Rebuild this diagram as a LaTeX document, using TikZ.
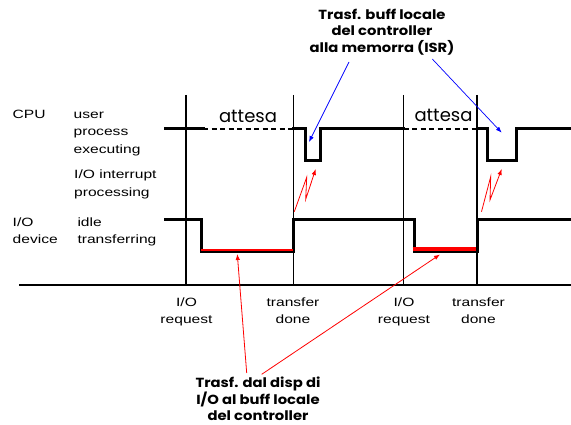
\documentclass[tikz,border=0pt]{standalone}
\usepackage{fontspec}
\setmainfont[FakeStretch=1.3]{Liberation Sans}
\newfontfamily\handfont{Poppins}
\newfontfamily\notefont[FakeStretch=1.12]{Poppins}
\usetikzlibrary{arrows.meta}

\begin{document}
\begin{tikzpicture}[x=1pt,y=-1pt,
  signal/.style={line width=3pt, line join=miter, line cap=rect},
  waiting/.style={line width=2.6pt, dash pattern=on 5pt off 3.5pt},
  marker/.style={line width=1.3pt},
  axisline/.style={line width=2pt},
  lbl/.style={font=\fontsize{12}{17.5}\selectfont, inner sep=0pt, anchor=base west},
  ctr/.style={font=\fontsize{12}{17.5}\selectfont, inner sep=0pt, anchor=base, align=center},
  waitlbl/.style={font=\handfont\fontsize{18}{20}\selectfont, inner sep=0pt},
  note/.style={font=\notefont\bfseries\fontsize{13.2}{16.5}\selectfont, inner sep=1pt, align=center},
  redarrow/.style={red, line width=0.8pt, -{Latex[length=6pt,width=4.5pt]}},
  bluearrow/.style={blue, line width=0.7pt, -{Latex[length=6pt,width=4.5pt]}}
]
\useasboundingbox (0,0) rectangle (571,425);

% event markers and time axis
\draw[marker] (186,95) -- (186,285);
\draw[marker] (293.5,95) -- (293.5,285);
\draw[marker] (403.5,95) -- (403.5,285);
\draw[marker] (477,95) -- (477,285);
\draw[axisline] (19,284.5) -- (571,284.5);

% CPU activity
\draw[signal] (165,129) -- (203,129);
\draw[waiting] (203,129) -- (293,129);
\draw[signal] (293,129) -- (305.7,129) -- (305.7,160.8) -- (320,160.8) -- (320,129) -- (403.5,129);
\draw[waiting] (403.5,129) -- (477,129);
\draw[signal] (477,129) -- (487.7,129) -- (487.7,160.8) -- (516,160.8) -- (516,129) -- (571,129);

% I/O device activity
\draw[signal] (165,219.2) -- (201.7,219.2) -- (201.7,251.5) -- (293.8,251.5) -- (293.8,219.2)
  -- (414.3,219.2) -- (414.3,251.5) -- (477,251.5) -- (477,219.2) -- (571,219.2);
\draw[red, line width=2.2pt] (201,249.8) -- (293,249.8);
\draw[red, line width=4pt] (412.5,248.8) -- (476,248.8);

% row labels
\node[lbl] (cpu) at (12.5,118.3) {CPU};
\node[lbl] (user) at (73.5,118.3) {user};
\node[lbl] (proc) at (73.5,135.8) {process};
\node[lbl] (exec) at (73.5,153.3) {executing};
\node[lbl] (intr) at (74,178.7) {I/O interrupt};
\node[lbl] (iproc) at (74,196.2) {processing};
\node[lbl] (io) at (12.5,226) {I/O};
\node[lbl] (dev) at (12.5,243.5) {device};
\node[lbl] (idle) at (77.3,226) {idle};
\node[lbl] (xfer) at (77.3,243.5) {transferring};

% event labels (anchored on the baseline of the second line)
\node[ctr] (req1) at (186.5,323.5) {I/O\\request};
\node[ctr] (done1) at (293,323.5) {transfer\\done};
\node[ctr] (req2) at (404,323.5) {I/O\\request};
\node[ctr] (done2) at (478.5,323.5) {transfer\\done};

% waiting labels
\node[waitlbl] (wait1) at (248,116) {attesa};
\node[waitlbl] (wait2) at (443.5,115) {attesa};

% annotations
\node[note] (isr) at (382,32) {Trasf. buff locale\\del controller\\alla memorra (ISR)};
\node[note] (dma) at (258,399) {Trasf. dal disp di\\I/O al buff locale\\del controller};

\coordinate (isrA) at (349,62);
\coordinate (isrB) at (432.3,59);
\coordinate (pulse1) at (309,142);
\coordinate (pulse2) at (501.7,132.7);
\draw[bluearrow] (isrA) -- (pulse1);
\draw[bluearrow] (isrB) -- (pulse2);

\coordinate (dmaA) at (246.7,373);
\coordinate (dmaB) at (261.7,374.3);
\coordinate (busy1) at (237.3,254);
\coordinate (busy2) at (440,254.5);
\draw[redarrow] (dmaA) -- (busy1);
\draw[redarrow] (dmaB) -- (busy2);

% interrupt signals
\coordinate (irq1) at (294.3,211.7);
\coordinate (irq2) at (481.5,211.7);
\draw[redarrow] (irq1) -- (306.7,177.3) -- (305.7,199.3) -- (315.7,169);
\draw[redarrow] (irq2) -- (490.7,176.7) -- (490,200) -- (501.7,169);
\end{tikzpicture}
\end{document}
